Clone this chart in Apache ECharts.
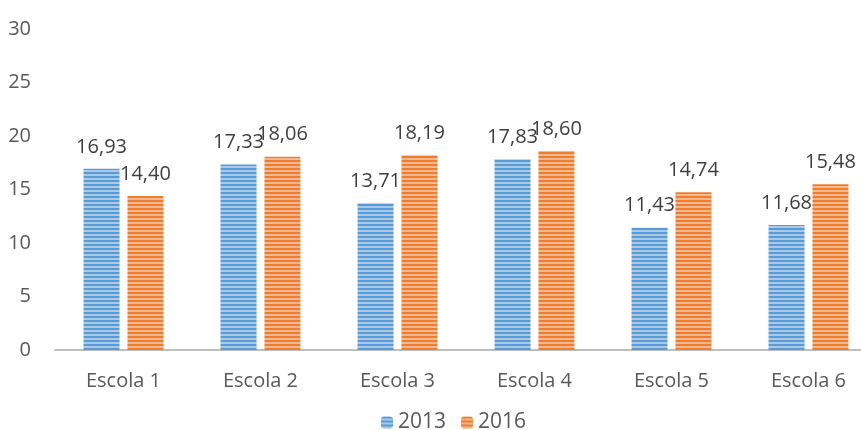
<!DOCTYPE html>
<html>
<head>
<meta charset="utf-8">
<script src="https://cdn.jsdelivr.net/npm/echarts@6/dist/echarts.min.js"></script>
<style>
  html, body { margin: 0; padding: 0; background: #fff; }
  #chart { width: 861px; height: 430px; }
</style>
</head>
<body>
<div id="chart"></div>
<script>
  var categories = ['Escola 1', 'Escola 2', 'Escola 3', 'Escola 4', 'Escola 5', 'Escola 6']
  var values2013 = [16.93, 17.33, 13.71, 17.83, 11.43, 11.68]
  var values2016 = [14.40, 18.06, 18.19, 18.60, 14.74, 15.48]
  var seriesNames = ['2013', '2016']

  // striped fill like the original
  function stripes (dark, light) {
    var c = document.createElement('canvas')
    c.width = 4
    c.height = 4
    var ctx = c.getContext('2d')
    ctx.fillStyle = light
    ctx.fillRect(0, 0, 4, 4)
    ctx.fillStyle = dark
    ctx.fillRect(0, 0, 4, 2)
    return { image: c, repeat: 'repeat' }
  }

  var textColor = '#595959'
  var fontFamily = '"Open Sans", "Noto Sans", sans-serif'

  function fmt (p) {
    return p.value.toFixed(2).replace('.', ',')
  }

  var chart = echarts.init(document.getElementById('chart'))
  var option = {
    animation: false,
    textStyle: { fontFamily: fontFamily },
    grid: { left: 55, width: 822, top: 29, height: 321, outerBoundsMode: 'none', containLabel: false },
    legend: {
      data: seriesNames,
      left: 381,
      top: 412,
      padding: 0,
      itemWidth: 12,
      itemHeight: 12,
      itemGap: 15,
      textStyle: { color: textColor, fontSize: 21, fontFamily: fontFamily }
    },
    xAxis: {
      type: 'category',
      data: categories,
      axisTick: { show: false },
      axisLine: { lineStyle: { color: '#bfbfbf', width: 2 } },
      axisLabel: { color: textColor, fontSize: 20, margin: 21 }
    },
    yAxis: {
      type: 'value',
      min: 0,
      max: 30,
      interval: 5,
      splitLine: { show: false },
      axisLine: { show: false },
      axisTick: { show: false },
      axisLabel: { color: textColor, fontSize: 20, margin: 24 }
    },
    series: [
      {
        name: seriesNames[0],
        type: 'bar',
        data: values2013,
        barWidth: 36,
        barGap: '22%',
        itemStyle: { color: stripes('#5b9bd5', '#a8caea') },
        label: { show: true, position: 'top', distance: 12, formatter: fmt, color: '#404040', fontSize: 20 }
      },
      {
        name: seriesNames[1],
        type: 'bar',
        data: values2016,
        barWidth: 36,
        itemStyle: { color: stripes('#ed7d31', '#f5b88c') },
        label: { show: true, position: 'top', distance: 12, formatter: fmt, color: '#404040', fontSize: 20 }
      }
    ]
  }
  chart.setOption(option)
</script>
</body>
</html>
